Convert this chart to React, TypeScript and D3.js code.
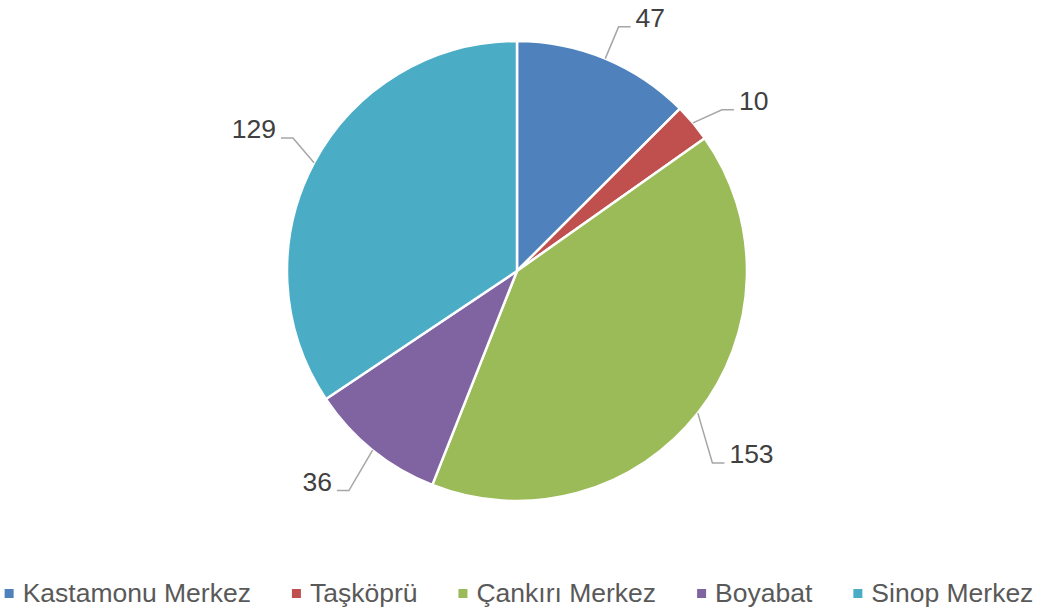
import * as d3 from "d3";
import React, { useRef, useEffect } from "react";

const width = 1046;
const height = 614;

const categories = ["Kastamonu Merkez", "Taşköprü", "Çankırı Merkez", "Boyabat", "Sinop Merkez"];
const values = [47, 10, 153, 36, 129];
const colors = ["#4F81BD", "#C0504D", "#9BBB59", "#8064A2", "#4BACC6"];

const cx = 517;
const cy = 271;
const radius = 230;
const labelRadius = 280;
const font = "'Liberation Sans', Arial, sans-serif";

export default function App() {
  const ref = useRef<SVGSVGElement>(null);

  useEffect(() => {
    if (!ref.current) return;
    const svg = d3.select(ref.current);
    svg.selectAll("*").remove();

    const data = categories.map((c, i) => ({ name: c, value: values[i], color: colors[i] }));
    const pie = d3.pie<any>().value(d => d.value).sort(null);
    const arcs = pie(data);
    const arc = d3.arc<any>().innerRadius(0).outerRadius(radius);
    const edge = d3.arc<any>().innerRadius(radius).outerRadius(radius);

    const g = svg.append("g").attr("transform", `translate(${cx},${cy})`);

    g.selectAll("path.slice")
      .data(arcs)
      .join("path")
      .attr("class", "slice")
      .attr("d", arc)
      .attr("fill", d => d.data.color)
      .attr("stroke", "#fff")
      .attr("stroke-width", 2.5)
      .attr("stroke-linejoin", "round");

    // leader lines + labels
    arcs.forEach(d => {
      const [x0, y0] = edge.centroid(d);
      const mid = (d.startAngle + d.endAngle) / 2;
      const a = mid + (2.5 * Math.PI) / 180;
      const right = mid < Math.PI;
      const lx = labelRadius * Math.sin(a);
      const ly = -labelRadius * Math.cos(a);
      const base = ly + 9.5;
      const x2 = lx + (right ? -5 : 5);
      const x1 = x2 + (right ? -12 : 12);
      g.append("polyline")
        .attr("points", `${x0},${y0} ${x1},${base} ${x2},${base}`)
        .attr("fill", "none")
        .attr("stroke", "#A6A6A6")
        .attr("stroke-width", 1.5);
      g.append("text")
        .attr("x", lx)
        .attr("y", base)
        .attr("text-anchor", right ? "start" : "end")
        .attr("font-family", font)
        .attr("font-size", 26.5)
        .attr("fill", "#404040")
        .text(d.data.value);
    });

    // legend
    const legend = svg.append("g");
    const items = legend.selectAll("g").data(data).join("g");
    items.append("rect")
      .attr("width", 9)
      .attr("height", 9)
      .attr("y", -13)
      .attr("fill", d => d.color);
    items.append("text")
      .attr("x", 18)
      .attr("font-family", font)
      .attr("font-size", 26.5)
      .attr("fill", "#595959")
      .text(d => d.name);

    let x = 0;
    const gap = 41;
    items.each(function () {
      const t = d3.select(this).select("text").node() as SVGTextElement;
      const w = 18 + t.getComputedTextLength();
      d3.select(this).attr("transform", `translate(${x},0)`);
      x += w + gap;
    });
    const total = x - gap;
    legend.attr("transform", `translate(${519 - total / 2},602)`);
  }, []);

  return (
    <div style={{ position: "absolute", left: 0, top: 0 }}>
      <svg ref={ref} width={width} height={height} style={{ display: "block", background: "#fff" }} />
    </div>
  );
}
